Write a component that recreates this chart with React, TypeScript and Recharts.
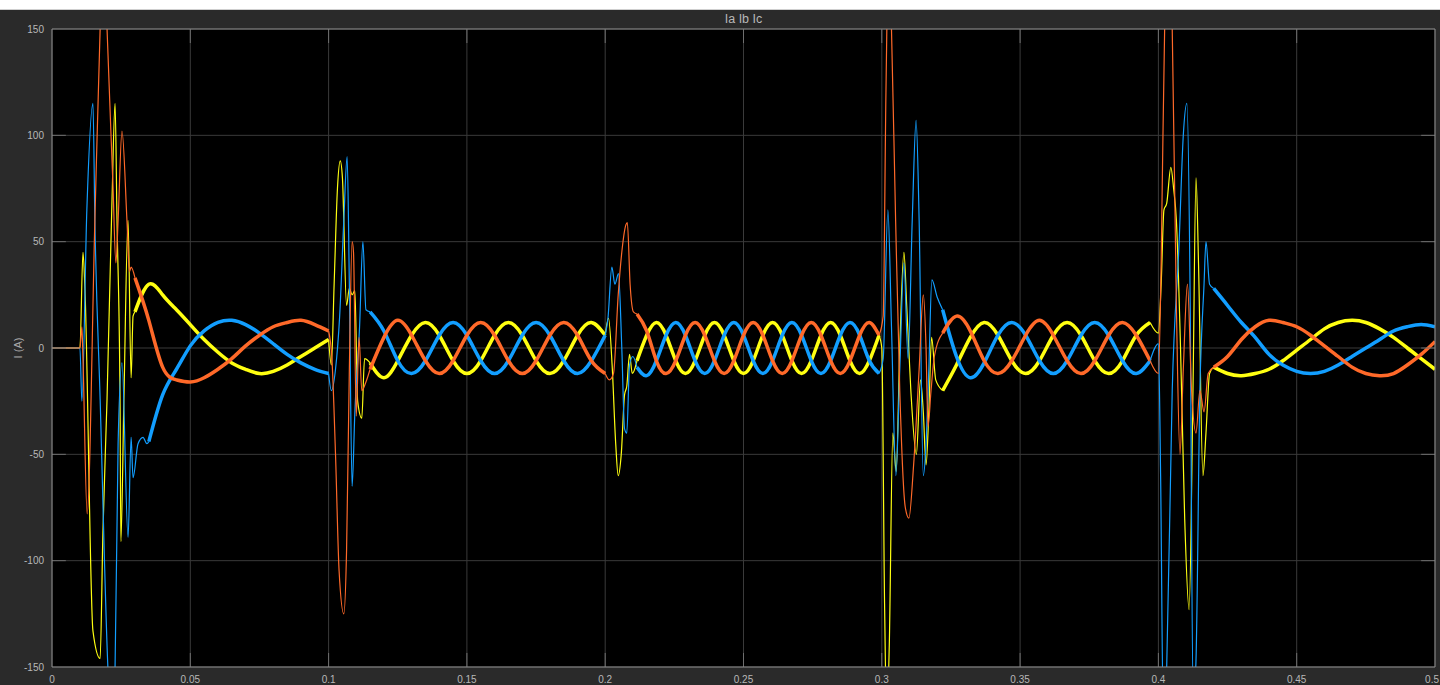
import React from 'react';
import { LineChart, Line, XAxis, YAxis, CartesianGrid, ReferenceLine } from 'recharts';

/* ───────── Axes ───────── */

const X_TICKS = [0, 0.05, 0.1, 0.15, 0.2, 0.25, 0.3, 0.35, 0.4, 0.45, 0.5];
const Y_TICKS = [-150, -100, -50, 0, 50, 100, 150];

/* ───────── Steady stretches: one time base, three phases ───────── */

const RUN1_T = [0.03, 0.035, 0.04, 0.045, 0.05, 0.055, 0.06, 0.065, 0.07, 0.075, 0.08, 0.085, 0.09, 0.095, 0.1];
const RUN1_IA = [17, 30, 25, 18, 11, 4, -2, -7, -10, -12, -11, -8, -4, 0, 4];
const RUN1_IB = [null, -44, -22, -10, 1, 8, 12, 13, 11, 7, 2, -3, -7, -10, -12];
const RUN1_IC = [33, 13, -9, -15, -16, -14, -10, -5, 1, 6, 10, 12, 13, 11, 8];

const RUN2_T = [0.115, 0.12, 0.125, 0.13, 0.135, 0.14, 0.145, 0.15, 0.155, 0.16, 0.165, 0.17, 0.175, 0.18, 0.185, 0.19, 0.195, 0.2];
const RUN2_IA = [-7, -14, -6, 6, 12, 6, -6, -12, -6, 6, 12, 6, -6, -12, -6, 6, 12, 6];
const RUN2_IB = [17, 8, -6, -12, -6, 6, 12, 6, -6, -12, -6, 6, 12, 6, -6, -12, -6, 6];
const RUN2_IC = [-10, 5, 13, 6, -6, -12, -6, 6, 12, 6, -6, -12, -6, 6, 12, 6, -6, -12];

const RUN3_T = [0.2115, 0.215, 0.2185, 0.222, 0.2255, 0.229, 0.2325, 0.236, 0.2395, 0.243, 0.2465, 0.25, 0.2535,
  0.257, 0.2605, 0.264, 0.2675, 0.271, 0.2745, 0.278, 0.2815, 0.285, 0.2885, 0.292, 0.2955, 0.299];
const RUN3_IA = [-6, 6, 12, 6, -6, -12, -6, 6, 12, 6, -6, -12, -6, 6, 12, 6, -6, -12, -6, 6, 12, 6, -6, -12, -6, 6];
const RUN3_IB = [-9, -13, -6, 6, 12, 6, -6, -12, -6, 6, 12, 6, -6, -12, -6, 6, 12, 6, -6, -12, -6, 6, 12, 6, -6, -12];
const RUN3_IC = [16, 8, -6, -12, -6, 6, 12, 6, -6, -12, -6, 6, 12, 6, -6, -12, -6, 6, 12, 6, -6, -12, -6, 6, 12, 6];

const RUN4_T = [0.322, 0.327, 0.332, 0.337, 0.342, 0.347, 0.352, 0.357, 0.362, 0.367, 0.372, 0.377, 0.382, 0.387, 0.392, 0.397];
const RUN4_IA = [-20, -8, 5, 12, 6, -6, -12, -6, 6, 12, 6, -6, -12, -6, 6, 12];
const RUN4_IB = [18, -4, -14, -7, 6, 12, 6, -6, -12, -6, 6, 12, 6, -6, -12, -6];
const RUN4_IC = [7, 15, 8, -6, -12, -6, 6, 13, 6, -6, -12, -6, 6, 12, 6, -6];

const RUN5_T = [0.42, 0.425, 0.43, 0.435, 0.44, 0.445, 0.45, 0.455, 0.46, 0.465, 0.47, 0.475, 0.48, 0.485, 0.49, 0.495, 0.5];
const RUN5_IA = [-9, -12, -13, -12, -10, -6, -1, 4, 9, 12, 13, 12, 9, 5, 0, -5, -10];
const RUN5_IB = [28, 20, 12, 5, -3, -8, -11, -12, -11, -8, -4, 0, 4, 8, 10, 11, 10];
const RUN5_IC = [-9, -4, 4, 10, 13, 12, 10, 6, 1, -4, -9, -12, -13, -12, -8, -3, 3];

/* ───────── Switching transients, [t, i] ───────── */

const IA_TR1 = [[0, 0], [0.0101, 0], [0.0112, 45], [0.0119, 28], [0.0148, -133], [0.0174, -146], [0.0184, -87], [0.0199, -24],
  [0.0217, 70], [0.0228, 115], [0.0235, 60], [0.0246, -24], [0.0249, -91], [0.026, -24], [0.0275, 60], [0.0286, -14], [0.0293, 15], [0.03, 17]];
const IB_TR1 = [[0, 0], [0.0101, 0], [0.0108, -25], [0.0126, 65], [0.0148, 115], [0.0155, 60], [0.0174, -24], [0.0202, -150],
  [0.0215, -180], [0.0228, -150], [0.0239, -45], [0.0253, -7], [0.0275, -89], [0.0286, -42], [0.0293, -61], [0.0311, -45],
  [0.0329, -42], [0.0343, -45], [0.035, -44]];
const IC_TR1 = [[0, 0], [0.0101, 0], [0.0108, 10], [0.0112, -5], [0.0127, -78], [0.0155, 60], [0.0174, 150], [0.0188, 195],
  [0.0199, 150], [0.022, 78], [0.0231, 40], [0.0239, 60], [0.0253, 102], [0.0271, 60], [0.028, 36], [0.0286, 38], [0.03, 33]];

const IA_TR2 = [[0.1, 4], [0.101, -8], [0.102, 30], [0.1032, 75], [0.1042, 88], [0.105, 80], [0.1065, 20], [0.1075, 28],
  [0.1085, 25], [0.1095, 27], [0.1105, -25], [0.112, -33], [0.113, -5], [0.115, -7]];
const IB_TR2 = [[0.1, -12], [0.101, -20], [0.1025, -10], [0.104, 15], [0.1055, 60], [0.1067, 90], [0.1075, 30], [0.1085, -65],
  [0.1095, -30], [0.1112, 10], [0.1124, 50], [0.1135, 18], [0.115, 17]];
const IC_TR2 = [[0.1, 8], [0.1012, -5], [0.1025, -50], [0.1038, -105], [0.1055, -125], [0.1065, -95], [0.1075, -10], [0.1085, 50],
  [0.109, 45], [0.11, -32], [0.111, 5], [0.112, -20], [0.1135, -16], [0.115, -10]];

const IA_TR3 = [[0.2, 6], [0.2012, 14], [0.2025, -8], [0.2038, -45], [0.2047, -60], [0.2058, -50], [0.207, -22], [0.2078, -18],
  [0.2088, -3], [0.2098, -12], [0.2115, -6]];
const IB_TR3 = [[0.2, 6], [0.201, 14], [0.2024, 38], [0.2035, 30], [0.2048, 35], [0.206, 0], [0.207, -38], [0.2078, -40],
  [0.2088, -8], [0.21, -4], [0.2115, -9]];
const IC_TR3 = [[0.2, -12], [0.2015, -15], [0.203, -12], [0.2047, 25], [0.206, 45], [0.2075, 58], [0.208, 59], [0.209, 30],
  [0.2102, 17], [0.2115, 16]];

const IA_TR4 = [[0.299, 6], [0.3, 0], [0.301, -120], [0.3018, -175], [0.3027, -140], [0.304, -40], [0.3052, -58], [0.3065, 0],
  [0.308, 45], [0.309, 20], [0.3105, -20], [0.3125, -50], [0.314, -15], [0.315, -30], [0.316, -55], [0.317, -30], [0.318, 5],
  [0.3195, -15], [0.322, -20]];
const IB_TR4 = [[0.299, -12], [0.3005, -5], [0.3022, 65], [0.3035, 10], [0.3051, -60], [0.3065, -10], [0.308, 40], [0.3095, -5],
  [0.311, 60], [0.3124, 107], [0.3135, 60], [0.315, -60], [0.316, -45], [0.317, -10], [0.3181, 32], [0.32, 24], [0.322, 18]];
const IC_TR4 = [[0.299, 6], [0.3005, 15], [0.3015, 120], [0.3025, 190], [0.3035, 150], [0.305, 60], [0.3065, -20], [0.3085, -75],
  [0.3098, -80], [0.3115, -55], [0.3135, -10], [0.315, 25], [0.316, 0], [0.3167, -37], [0.3178, -20], [0.319, -4], [0.322, 7]];

const IA_TR5 = [[0.397, 12], [0.4, 7], [0.401, 30], [0.402, 65], [0.403, 68], [0.4045, 85], [0.4055, 75], [0.4065, 60],
  [0.408, 0], [0.4095, -80], [0.4111, -123], [0.4125, -20], [0.4136, 80], [0.4145, 40], [0.4161, -60], [0.4172, -40],
  [0.4185, -12], [0.42, -9]];
const IB_TR5 = [[0.397, -6], [0.4, 2], [0.4008, -60], [0.4018, -175], [0.403, -150], [0.405, -20], [0.4075, 50], [0.409, 100],
  [0.4103, 115], [0.4115, 20], [0.4125, -160], [0.4135, -150], [0.415, -20], [0.4165, 30], [0.4172, 50], [0.4185, 30], [0.42, 28]];
const IC_TR5 = [[0.397, -6], [0.4, -12], [0.401, 40], [0.4025, 170], [0.404, 195], [0.405, 150], [0.4065, 20], [0.4078, -50],
  [0.409, -10], [0.4105, 30], [0.412, -20], [0.4136, -40], [0.415, -20], [0.4165, -30], [0.418, -12], [0.42, -9]];

/* ───────── Theme ───────── */

const PHASE_COLORS = { a: '#ffff11', b: '#129eff', c: '#ff6929' };
const FIG_BG = '#2a2a2a';
const GRID = '#3a3a3a';
const BORDER = '#8c8c8c';
const TICK_MARK = '#6e6e6e';
const LABEL = '#b8b8b8';

/* ───────── Helpers ───────── */

type Pt = { t: number; i: number | null };

function joinRuns(runs: [number[], (number | null)[]][]): Pt[] {
  const out: Pt[] = [];
  runs.forEach(([ts, vs], k) => {
    if (k > 0) out.push({ t: ts[0], i: null });
    ts.forEach((t, j) => out.push({ t, i: vs[j] }));
  });
  return out;
}

function joinBursts(bursts: number[][][]): Pt[] {
  const out: Pt[] = [];
  bursts.forEach((b, k) => {
    if (k > 0) out.push({ t: b[0][0], i: null });
    b.forEach(([t, i]) => out.push({ t, i }));
  });
  return out;
}

const runA = joinRuns([[RUN1_T, RUN1_IA], [RUN2_T, RUN2_IA], [RUN3_T, RUN3_IA], [RUN4_T, RUN4_IA], [RUN5_T, RUN5_IA]]);
const runB = joinRuns([[RUN1_T, RUN1_IB], [RUN2_T, RUN2_IB], [RUN3_T, RUN3_IB], [RUN4_T, RUN4_IB], [RUN5_T, RUN5_IB]]);
const runC = joinRuns([[RUN1_T, RUN1_IC], [RUN2_T, RUN2_IC], [RUN3_T, RUN3_IC], [RUN4_T, RUN4_IC], [RUN5_T, RUN5_IC]]);
const trA = joinBursts([IA_TR1, IA_TR2, IA_TR3, IA_TR4, IA_TR5]);
const trB = joinBursts([IB_TR1, IB_TR2, IB_TR3, IB_TR4, IB_TR5]);
const trC = joinBursts([IC_TR1, IC_TR2, IC_TR3, IC_TR4, IC_TR5]);

const X_MIN = X_TICKS[0];
const X_MAX = X_TICKS[X_TICKS.length - 1];
const Y_MIN = Y_TICKS[0];
const Y_MAX = Y_TICKS[Y_TICKS.length - 1];
const TICK_DX = 0.005;
const TICK_DY = 6.6;

// last x label would run off the right edge, so pin it right-aligned
function XTick({ x, y, payload }: any) {
  const last = payload.value === X_MAX;
  return (
    <text x={last ? x + 4 : x} y={y} dy="0.71em" textAnchor={last ? 'end' : 'middle'} fill={LABEL} fontSize={10}>
      {String(payload.value)}
    </text>
  );
}

export default function App() {
  const lineProps = { dataKey: 'i', dot: false, activeDot: false, isAnimationActive: false, connectNulls: false } as const;

  return (
    <div style={{
      position: 'fixed', left: 0, top: 0, width: 1440, height: 685, overflow: 'hidden',
      background: FIG_BG, fontFamily: '"Liberation Sans", Arial, sans-serif',
    }}>
      <div style={{ position: 'absolute', left: 0, top: 0, width: 1440, height: 9, background: '#fff', borderBottom: '1px solid #cfcfcf' }} />

      <LineChart width={1440} height={685} margin={{ top: 29, right: 5, bottom: 0, left: 0 }} style={{ position: 'absolute', left: 0, top: 0 }}>
        <CartesianGrid stroke={GRID} fill="#000" fillOpacity={1} />
        <XAxis
          dataKey="t" type="number" domain={[X_MIN, X_MAX]} ticks={X_TICKS} allowDataOverflow interval={0}
          height={18} tickLine={false} axisLine={false} tickMargin={3} tick={<XTick />}
        />
        <YAxis
          type="number" domain={[Y_MIN, Y_MAX]} ticks={Y_TICKS} allowDataOverflow interval={0}
          width={52} tickLine={false} axisLine={false}
          tick={{ fill: LABEL, fontSize: 10 }}
        />

        <Line {...lineProps} data={runA} type="natural" stroke={PHASE_COLORS.a} strokeWidth={3.5} name="Ia" />
        <Line {...lineProps} data={runB} type="natural" stroke={PHASE_COLORS.b} strokeWidth={3.5} name="Ib" />
        <Line {...lineProps} data={runC} type="natural" stroke={PHASE_COLORS.c} strokeWidth={3.5} name="Ic" />
        <Line {...lineProps} data={trA} type="monotone" stroke={PHASE_COLORS.a} strokeWidth={1.2} name="Ia transient" />
        <Line {...lineProps} data={trB} type="monotone" stroke={PHASE_COLORS.b} strokeWidth={1.2} name="Ib transient" />
        <Line {...lineProps} data={trC} type="monotone" stroke={PHASE_COLORS.c} strokeWidth={1.2} name="Ic transient" />

        {X_TICKS.slice(1, -1).map((x) => (
          <ReferenceLine key={`xb${x}`} segment={[{ x, y: Y_MIN }, { x, y: Y_MIN + TICK_DY }]} stroke={TICK_MARK} />
        ))}
        {X_TICKS.slice(1, -1).map((x) => (
          <ReferenceLine key={`xt${x}`} segment={[{ x, y: Y_MAX }, { x, y: Y_MAX - TICK_DY }]} stroke={TICK_MARK} />
        ))}
        {Y_TICKS.slice(1, -1).map((y) => (
          <ReferenceLine key={`yl${y}`} segment={[{ x: X_MIN, y }, { x: X_MIN + TICK_DX, y }]} stroke={TICK_MARK} />
        ))}
        {Y_TICKS.slice(1, -1).map((y) => (
          <ReferenceLine key={`yr${y}`} segment={[{ x: X_MAX, y }, { x: X_MAX - TICK_DX, y }]} stroke={TICK_MARK} />
        ))}

        <ReferenceLine x={X_MIN} stroke={BORDER} />
        <ReferenceLine x={X_MAX} stroke={BORDER} />
        <ReferenceLine y={Y_MIN} stroke={BORDER} />
        <ReferenceLine y={Y_MAX} stroke={BORDER} />
      </LineChart>

      <div style={{
        position: 'absolute', left: 52, top: 10, width: 1383, height: 19, lineHeight: '19px',
        textAlign: 'center', color: LABEL, fontSize: 12.5,
      }}>
        Ia Ib Ic
      </div>
      <div style={{
        position: 'absolute', left: 18, top: 348, transform: 'translate(-50%, -50%) rotate(-90deg)',
        color: '#a8a8a8', fontSize: 11, whiteSpace: 'nowrap',
      }}>
        I (A)
      </div>
    </div>
  );
}
